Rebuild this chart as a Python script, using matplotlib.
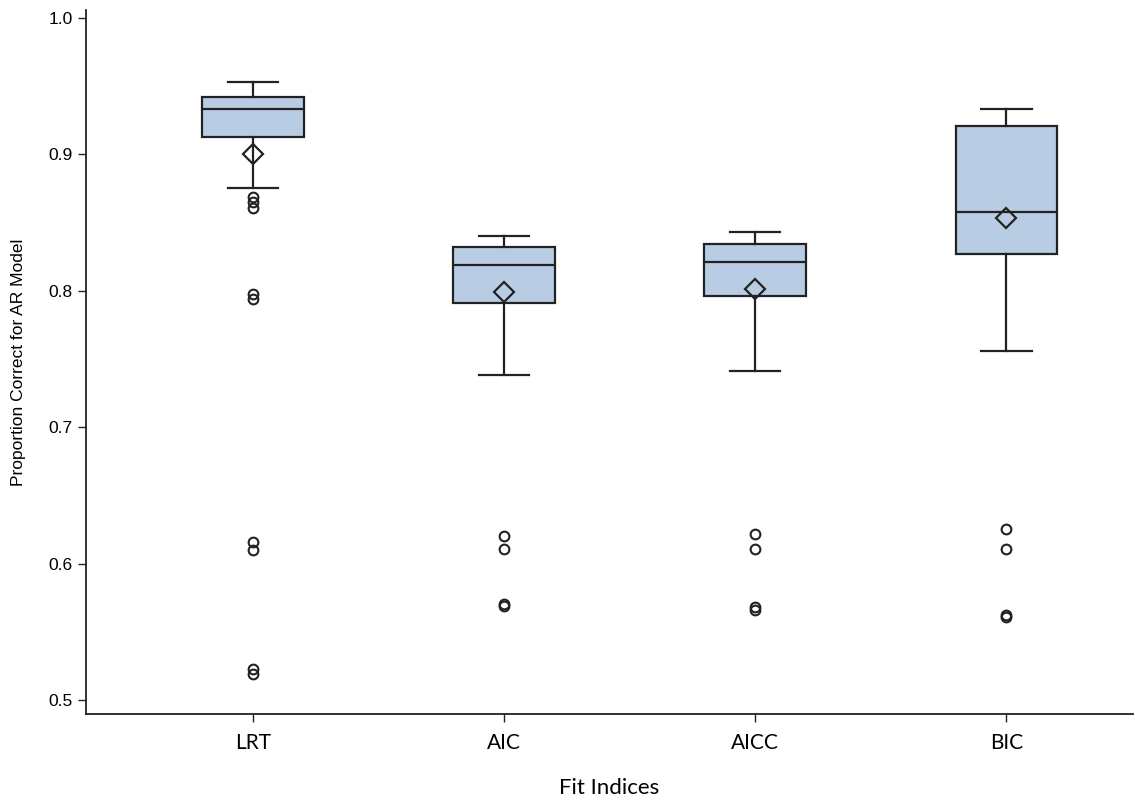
import matplotlib
matplotlib.use("Agg")
import matplotlib.pyplot as plt

labels = ["LRT", "AIC", "AICC", "BIC"]
whislo = [0.875, 0.738, 0.741, 0.756]
q1 = [0.913, 0.791, 0.796, 0.827]
med = [0.933, 0.819, 0.821, 0.858]
q3 = [0.942, 0.832, 0.834, 0.921]
whishi = [0.953, 0.840, 0.843, 0.933]
means = [0.900, 0.799, 0.801, 0.853]
fliers = [
    [0.869, 0.865, 0.861, 0.798, 0.794, 0.616, 0.610, 0.523, 0.519],
    [0.620, 0.611, 0.570, 0.569],
    [0.622, 0.611, 0.568, 0.566],
    [0.625, 0.611, 0.562, 0.561],
]

stats = []
for i in range(len(labels)):
    stats.append(dict(label=labels[i], whislo=whislo[i], q1=q1[i], med=med[i],
                      q3=q3[i], whishi=whishi[i], mean=means[i], fliers=fliers[i]))

fig = plt.figure(figsize=(11.35, 8.01), dpi=100)
ax = fig.add_axes([0.0758, 0.1086, 0.922, 0.879])

edge = "#222222"
lw = 1.6
ax.bxp(stats, positions=range(4), widths=0.405, patch_artist=True, showmeans=True,
       boxprops=dict(facecolor="#b8cce4", edgecolor=edge, linewidth=lw),
       medianprops=dict(color=edge, linewidth=lw),
       whiskerprops=dict(color=edge, linewidth=lw),
       capprops=dict(color=edge, linewidth=lw),
       capwidths=0.2,
       meanprops=dict(marker="D", markerfacecolor="none", markeredgecolor=edge,
                      markeredgewidth=1.6, markersize=10),
       flierprops=dict(marker="o", markerfacecolor="none", markeredgecolor=edge,
                       markeredgewidth=1.5, markersize=7))

ax.set_xlim(-0.6645, 3.502)
ax.set_ylim(0.4897, 1.0059)
ax.set_yticks([0.5, 0.6, 0.7, 0.8, 0.9, 1.0])
ax.set_yticklabels(["0.5", "0.6", "0.7", "0.8", "0.9", "1.0"], fontfamily="Liberation Sans", fontsize=12.5)
ax.set_xticks(range(4))
ax.set_xticklabels(labels, fontfamily="Lato", fontsize=15)
ax.tick_params(axis="both", length=6, width=1, color=edge)
ax.tick_params(axis="x", pad=8)
for side in ["top", "right"]:
    ax.spines[side].set_visible(False)
for side in ["left", "bottom"]:
    ax.spines[side].set_linewidth(1.3)
    ax.spines[side].set_color(edge)

ax.set_xlabel("Fit Indices", fontfamily="Lato", fontsize=16, labelpad=18)
ax.set_ylabel("Proportion Correct for AR Model", fontfamily="Liberation Sans",
              fontsize=12.5, labelpad=16)

fig.savefig("out.png", dpi=100)
